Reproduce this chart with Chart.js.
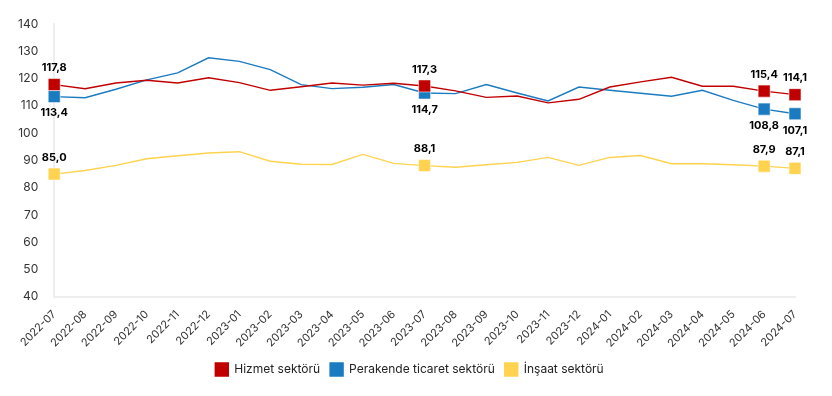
<!DOCTYPE html>
<html>
<head>
<meta charset="utf-8">
<script src="https://cdn.jsdelivr.net/npm/chart.js@4/dist/chart.umd.min.js"></script>
<style>
html,body{margin:0;padding:0;background:#fff;}
#wrap{width:832px;height:396px;position:relative;}
</style>
</head>
<body>
<div id="wrap"><canvas id="c" width="832" height="396"></canvas></div>
<script>
const categories = ["2022-07","2022-08","2022-09","2022-10","2022-11","2022-12","2023-01","2023-02","2023-03","2023-04","2023-05","2023-06","2023-07","2023-08","2023-09","2023-10","2023-11","2023-12","2024-01","2024-02","2024-03","2024-04","2024-05","2024-06","2024-07"];
const hizmet = [117.8,116.3,118.4,119.4,118.4,120.3,118.5,115.7,117.0,118.4,117.6,118.3,117.3,115.5,113.1,113.6,111.1,112.4,116.9,118.8,120.5,117.2,117.2,115.4,114.1];
const perakende = [113.4,113.0,116.1,119.5,122.1,127.6,126.3,123.3,117.8,116.3,116.8,117.8,114.7,114.5,117.8,114.7,111.8,116.9,115.7,114.6,113.5,115.7,112.0,108.8,107.1];
const insaat = [85.0,86.3,88.2,90.6,91.7,92.7,93.2,89.7,88.6,88.5,92.2,88.9,88.1,87.5,88.4,89.3,91.1,88.2,91.1,91.8,88.8,88.8,88.4,87.9,87.1];
const seriesNames = ["Hizmet sektörü","Perakende ticaret sektörü","İnşaat sektörü"];
const labeledIdx = [0,12,23,24];
const yTicks = {min:40,max:140,step:10};

const radii = categories.map((_,i)=>labeledIdx.includes(i)?8.5:0);
const fontFam = "Inter, 'Liberation Sans', Arial, sans-serif";

function ds(label,data,color,pos){
  return {label,data,borderColor:color,backgroundColor:color,borderWidth:1.4,
    pointStyle:'rect',pointRadius:radii,pointHoverRadius:radii,
    pointBorderColor:'rgba(255,255,255,0.55)',pointBorderWidth:1,
    tension:0,labelPos:pos};
}

const labelPlugin = {
  id:'valLabels',
  afterLayout(chart){
    if(chart.legend){ chart.legend.left += 7; chart.legend.right += 7; }
  },
  afterDatasetsDraw(chart){
    const ctx = chart.ctx;
    ctx.save();
    ctx.font = "bold 11px " + fontFam;
    ctx.fillStyle = "#000";
    ctx.textAlign = "center";
    chart.data.datasets.forEach((d,di)=>{
      const meta = chart.getDatasetMeta(di);
      labeledIdx.forEach(i=>{
        const el = meta.data[i];
        const txt = d.data[i].toFixed(1).replace('.',',');
        if(d.labelPos==='below'){
          ctx.textBaseline='top';
          ctx.fillText(txt, el.x, el.y+11);
        } else {
          ctx.textBaseline='bottom';
          ctx.fillText(txt, el.x, el.y-11);
        }
      });
    });
    ctx.restore();
  }
};

new Chart(document.getElementById('c'),{
  type:'line',
  data:{labels:categories,datasets:[
    ds(seriesNames[0],hizmet,'#c00000','above'),
    ds(seriesNames[1],perakende,'#1b7bc1','below'),
    ds(seriesNames[2],insaat,'#ffd34f','above')
  ]},
  options:{
    responsive:false,animation:false,
    layout:{padding:{left:10,right:37,top:24,bottom:10}},
    plugins:{
      legend:{position:'bottom',labels:{boxWidth:13,boxHeight:13,font:{size:12,family:fontFam},color:'#222',padding:10}},
      tooltip:{enabled:false}
    },
    scales:{
      x:{grid:{display:false},border:{display:true,color:'#eeeeee',width:2},
        ticks:{maxRotation:45,minRotation:45,autoSkip:false,font:{size:11,family:fontFam},color:'#333',padding:3}},
      y:{min:yTicks.min,max:yTicks.max,grid:{display:false},border:{display:true,color:'#eeeeee',width:2},
        ticks:{stepSize:yTicks.step,font:{size:12,family:fontFam},color:'#333',padding:8}}
    }
  },
  plugins:[labelPlugin]
});
</script>
</body>
</html>
